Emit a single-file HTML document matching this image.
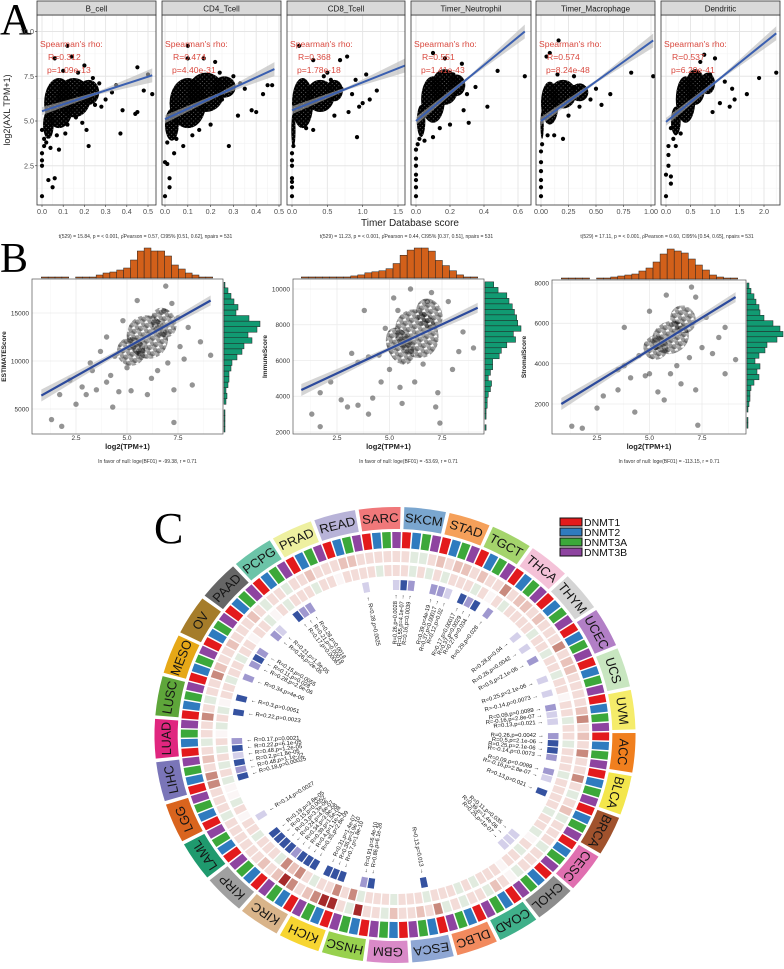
<!DOCTYPE html>
<html><head><meta charset="utf-8"><style>
html,body{margin:0;padding:0;background:#fff}
svg{display:block}
text{font-family:"Liberation Sans",sans-serif}
</style></head><body>
<svg id="fig" xmlns="http://www.w3.org/2000/svg" width="784" height="969" viewBox="0 0 784 969">
<defs>
<pattern id="dotsA" width="4.4" height="4.4" patternUnits="userSpaceOnUse">
<circle cx="0" cy="0" r="1.9" fill="#000"/><circle cx="4.4" cy="0" r="1.9" fill="#000"/><circle cx="0" cy="4.4" r="1.9" fill="#000"/><circle cx="4.4" cy="4.4" r="1.9" fill="#000"/><circle cx="2.2" cy="2.2" r="1.9" fill="#000"/>
</pattern>
<pattern id="dotsB" width="7" height="7" patternUnits="userSpaceOnUse">
<circle cx="1.5" cy="1.5" r="2.7" fill="#000" fill-opacity="0.4"/><circle cx="5" cy="4.5" r="2.7" fill="#000" fill-opacity="0.4"/><circle cx="2.5" cy="6" r="2.7" fill="#000" fill-opacity="0.3"/>
</pattern>
</defs>
<rect width="784" height="969" fill="#fff"/>
<text x="0" y="34" font-size="44" style="font-family:'Liberation Serif',serif">A</text>
<text x="0" y="272" font-size="42" style="font-family:'Liberation Serif',serif">B</text>
<text x="154" y="543" font-size="44" style="font-family:'Liberation Serif',serif">C</text>
<g id="pa"></g>
<g id="pb"></g>
<g id="pc"></g>
</svg>
<script>
// ---------- Panel A data ----------
const aNames=["B_cell","CD4_Tcell","CD8_Tcell","Timer_Neutrophil","Timer_Macrophage","Dendritic"];
const aR=["R=0.312","R=0.474","R=0.368","R=0.551","R=0.574","R=0.537"];
const aP=["p=1.09e-13","p=4.40e-31","p=1.78e-18","p=1.41e-43","p=8.24e-48","p=6.29e-41"];
const aTicks=[["0.0","0.1","0.2","0.3","0.4","0.5"],["0.0","0.1","0.2","0.3","0.4","0.5"],["0.0","0.5","1.0","1.5"],["0.0","0.2","0.4","0.6"],["0.00","0.25","0.50","0.75","1.00"],["0.0","0.5","1.0","1.5","2.0"]];
const aYTicks=[2.5,5.0,7.5,10.0];
const aLine=[[0,5.55,0.52,7.55],[0,5.1,0.48,7.9],[0,5.6,1.6,8.1],[0,5.0,0.64,10.0],[0,5.0,1.02,9.5],[0,4.95,2.25,9.9]];
const aCore=[
 [[0.08,6.0,0.07,1.4],[0.15,6.3,0.08,1.1],[0.03,4.8,0.025,0.8],[0.22,6.6,0.05,0.7]],
 [[0.1,6.0,0.08,1.4],[0.18,6.6,0.08,1.1],[0.03,4.8,0.03,0.9],[0.26,6.9,0.05,0.6]],
 [[0.15,6.0,0.15,1.4],[0.4,6.4,0.2,0.9],[0.02,4.5,0.03,1.0],[0.6,6.7,0.12,0.6]],
 [[0.1,6.2,0.07,1.3],[0.17,6.9,0.08,1.0],[0.03,5.0,0.025,0.9],[0.24,7.0,0.05,0.6]],
 [[0.08,6.0,0.08,1.2],[0.2,6.5,0.12,0.8],[0.01,4.8,0.015,0.8],[0.35,6.6,0.08,0.5]],
 [[0.4,6.2,0.2,1.3],[0.6,6.9,0.2,1.0],[0.2,5.0,0.1,0.8],[0.85,7.1,0.15,0.6]]];
const aPts=[
 [[0,0.8],[0,2.8],[0,2.5],[0.03,1.7],[0.05,1.3],[0.06,1.8],[0.12,9.2],[0.06,8.5],[0.14,8.6],[0.1,7.8],[0.2,8.1],[0.22,3.6],[0.38,5.6],[0.37,4.3],[0.45,5.5],[0.44,5.4],[0.48,6.7],[0.5,7.6],[0.52,6.5],[0.45,8.0],[0.33,6.6],[0.3,6.2],[0.27,7.1],[0.25,5.9],[0.01,4.0],[0.02,3.8],[0.04,3.5],[0.08,3.4],[0.07,4.2],[0.12,4.8],[0.18,6.8],[0.16,5.2],[0.28,5.8],[0.35,7.0],[0.21,4.5],[0,3.2],[0,4.5],[0.19,4.9],[0.24,7.4],[0.17,7.7],[0.01,3.6],[0.11,4.3]],
 [[0,0.8],[0,2.7],[0.02,1.8],[0.02,1.3],[0.01,2.6],[0.1,9.2],[0.1,8.5],[0.17,8.5],[0.22,8.3],[0.28,3.6],[0.47,7.0],[0.45,7.0],[0.43,6.5],[0.38,5.6],[0.4,5.5],[0.32,5.3],[0.35,6.8],[0.3,7.5],[0.05,4.0],[0.08,3.6],[0.04,3.2],[0.25,6.2],[0.2,4.8],[0.27,7.2],[0.15,4.5],[0.24,7.7],[0.12,4.2],[0.01,3.8],[0.33,7.1]],
 [[0,0.8],[0,1.3],[0,1.6],[0,1.8],[0,2.5],[0,2.8],[0,3.2],[0.1,9.2],[0.3,8.4],[0.5,7.7],[0.68,8.4],[0.78,8.6],[0.9,7.3],[0.92,4.1],[1.05,7.6],[1.1,6.2],[1.2,6.7],[1.0,6.0],[0.85,6.5],[0.95,5.8],[0.6,5.3],[0.7,6.8],[0.55,7.3],[0.3,4.5],[0.8,5.5],[0.02,3.6],[0.2,4.6],[0.45,7.5]],
 [[0,0.8],[0,1.3],[0,1.7],[0,2.0],[0,2.5],[0,2.9],[0,3.4],[0.1,8.8],[0.17,8.5],[0.27,8.2],[0.48,7.8],[0.64,7.5],[0.42,5.8],[0.31,4.9],[0.35,6.9],[0.3,6.5],[0.25,7.1],[0.02,4.0],[0.05,3.9],[0.1,4.1],[0.2,4.8],[0.22,7.6],[0.28,5.6],[0.01,3.7],[0.14,4.6]],
 [[0,0.8],[0,1.3],[0,1.7],[0,2.2],[0,2.7],[0,3.3],[0.05,8.6],[0.08,8.8],[0.16,9.5],[0.82,7.7],[1.02,7.5],[0.63,6.5],[0.55,5.9],[0.5,6.8],[0.45,6.2],[0.4,6.7],[0.3,6.9],[0.2,4.0],[0.12,4.2],[0.3,7.5],[0.25,5.3],[0.35,5.8],[0.15,7.6],[0.01,3.7],[0.06,4.2]],
 [[0,0.8],[0,2.0],[0.05,2.5],[0.1,1.5],[0.1,1.9],[0.05,3.1],[0.78,8.7],[1.0,8.5],[1.2,7.2],[1.35,6.8],[1.4,6.2],[1.65,6.5],[1.9,7.4],[2.25,7.7],[1.1,6.0],[0.95,5.5],[0.15,4.0],[0.2,3.6],[0.3,4.3],[1.3,5.8],[0.9,7.6],[0.7,8.3],[0.1,4.6],[0.05,3.6]]];
const aBox=[[37,156],[162,281],[287,405],[411,531],[536,655],[661,780]];
const aXA=[[0,42,0.5,148],[0,165,0.5,279],[0,292,1.5,398],[0,416,0.6,518],[0,541,1.0,651],[0,666,2.0,764]];

// ---------- Panel B data ----------
const bYTitle=["ESTIMATEScore","ImmuneScore","StromalScore"];
const bTop=["t(529) = 15.84, p = < 0.001, ρ̂Pearson = 0.57, CI95% [0.51, 0.62], npairs = 531","t(529) = 11.23, p = < 0.001, ρ̂Pearson = 0.44, CI95% [0.37, 0.51], npairs = 531","t(529) = 17.11, p = < 0.001, ρ̂Pearson = 0.60, CI95% [0.54, 0.65], npairs = 531"];
const bBot=["In favor of null: loge(BF01) = -99.38, r = 0.71","In favor of null: loge(BF01) = -53.69, r = 0.71","In favor of null: loge(BF01) = -113.15, r = 0.71"];
const bYTicks=[[5000,10000,15000],[2000,4000,6000,8000,10000],[2000,4000,6000,8000]];
const bXTicks=[2.5,5.0,7.5];
const bLine=[[0.8,6400,9.1,16300],[0.8,4350,9.2,8950],[0.8,2000,9.1,7300]];
const bCore=[[[6.0,12500,1.0,2300],[5.2,11000,0.7,1500],[6.8,14000,0.6,1600]],[[6.3,7500,1.0,1400],[5.5,6800,0.6,1100],[6.9,8600,0.6,900]],[[6.0,5300,0.9,800],[5.3,4800,0.6,600],[6.6,6200,0.6,700]]];
const bPts=[
 [[1.3,3900],[1.8,3200],[7.3,3600],[2.5,5500],[1.7,6500],[4.3,5200],[3.0,6500],[3.5,7000],[4.0,7800],[4.6,6800],[5.2,6900],[6.0,6500],[7.3,7000],[8.2,7500],[8.6,12000],[9.1,10600],[7.8,10200],[6.9,17800],[7.2,16000],[5.5,16300],[4.0,12500],[3.7,11000],[3.2,9800],[4.4,10500],[5.0,9300],[6.5,9000],[7.0,9800],[8.0,13500],[7.5,14500],[4.8,14200],[3.3,9000],[2.2,8000],[2.8,7300],[4.2,8500],[5.6,10800],[6.8,15200],[7.6,11500],[6.2,8200]],
 [[1.3,3000],[1.7,2300],[1.7,4200],[2.7,3800],[3.0,3400],[3.5,3500],[4.2,3900],[4.0,3000],[2.2,4800],[3.8,8800],[4.5,6300],[5.0,5500],[5.5,4500],[6.2,4800],[7.3,4200],[7.2,3400],[7.4,2500],[8.0,5500],[9.0,6700],[7.8,9300],[7.0,9800],[6.0,10000],[5.2,9500],[4.8,7800],[6.6,5800],[8.5,7600],[4.0,6200],[3.5,5900],[4.6,4800],[5.6,3600],[6.8,9300],[5.4,8800],[8.3,6500],[3.2,6400]],
 [[1.3,900],[1.8,800],[7.3,950],[2.5,1800],[4.3,1600],[5.7,2200],[2.8,2400],[3.5,2700],[3.8,3900],[4.8,3400],[5.0,3500],[5.4,2600],[6.5,3000],[7.2,2700],[8.6,3500],[9.1,4200],[8.0,4500],[8.3,5300],[8.6,5800],[7.7,6300],[7.0,7800],[5.8,7400],[5.0,6600],[3.8,5800],[4.5,4400],[6.3,3900],[7.5,4800],[3.5,3700],[4.1,3300],[6.0,3500],[6.9,4300],[5.3,4800],[7.2,7300]]];
const bHistTop=[[1,1,1,1,0,1,1,1,3,5,6,8,10,18,27,30,27,27,22,13,9,5,3,1,1],[1,1,1,1,1,1,1,2,3,5,6,7,9,14,22,27,29,29,26,17,12,7,3,1,1],[1,1,1,1,0,1,1,2,3,4,5,8,11,17,25,30,28,26,20,14,9,4,2,1,1]];
const bHistRight=[[1,1,1,1,0,2,3,2,4,5,5,7,8,13,18,20,28,24,33,36,25,12,14,10,7,4,1],[1,0,1,1,2,2,3,5,6,3,5,7,7,13,15,20,28,26,33,30,29,27,25,22,20,12,8],[1,1,0,1,2,3,3,4,7,12,10,13,8,12,18,20,30,36,33,26,17,13,12,9,7,4,2]];
const bHistRange=[[2600,18200],[2100,10400],[800,8000]];
const bBox=[[32,279,223,434],[293,279,484,434],[552,280,746,434]];
const bXA=[[2.5,76,7.5,178],[2.5,337,7.5,442],[2.5,597,7.5,702]];
const bYA=[[5000,409,15000,313],[2000,432,10000,289],[2000,404,8000,283]];

// ---------- Panel C data ----------
const cancers=["ACC","BLCA","BRCA","CESC","CHOL","COAD","DLBC","ESCA","GBM","HNSC","KICH","KIRC","KIRP","LAML","LGG","LIHC","LUAD","LUSC","MESO","OV","PAAD","PCPG","PRAD","READ","SARC","SKCM","STAD","TGCT","THCA","THYM","UCEC","UCS","UVM"];
const cancerColors=["#f07f1e","#f3e64c","#a0522d","#e06fb0","#8c8c8c","#40b08a","#f28a5e","#8fa7d4","#d98ac8","#98d14e","#f7d531","#d9b48a","#a0a0a0","#1f9a6e","#d9641e","#7a75b8","#e0267f","#5ea63a","#e6a817","#a57c2a","#666666","#6cc4a8","#eef0a0","#b8b3d8","#f0787a","#7aa6cf","#f5a05a","#a4d46c","#f4c2d8","#d4d4d4","#b27fc6","#c8e6c0","#f5ec6a"];
const genes=["DNMT1","DNMT2","DNMT3A","DNMT3B"];
const geneColors=["#e31a1c","#2f7bbf","#3ca83a","#8e44a0"];
const ring2=["qpPp","pPpg","pqgp","ppgp","ppg0","pqgp","pgpg","Ppqp","pqgp","pRgp","RRPq","pPRq","pqpp","pppp","gppp","PPpq","pgpp","Ppgp","pPqp","pqpp","pqpg","ppgp","pqpp","pqqp","pppp","pggp","qpqq","pqpp","Ppqq","pqpp","pPpq","qppp","pqPp"];
const ring3=["pgpp","pgpp","ppgp","pg0p","gpp0","pppg","pgpp","pgpp","pgpp","pgPp","Pppg","pPqP","gppp","gpp0","pg00","gpgp","gp0g","pg0p","pgpp","gpp0","ppg0","pgpp","pgpp","0ppp","pgpp","pgpg","pgpp","pgp0","pgpp","ppgp","pgpp","gpp0","ppgp"];
const ring4=["lbbl","0lL0","b000","000L","LL00","0000","0000","0b00","0000","bl00","bbb0","bbbl","bbbb","00L0","0000","blbL","bl00","0b0b","00l0","lbl0","0lL0","0bll","0000","000L","000L","bl00","llL0","blb0","l000","0L0L","0l00","L0L0","lLL0"];
const sigText=["R=0.26,p=0.0042","R=0.5,p=2.1e-06","R=0.25,p=2.1e-06","R=-0.14,p=0.0073","R=0.09,p=0.0089","R=-0.16,p=2.8e-07","R=0.13,p=0.021","R=0.11,p=0.035","R=0.39,p=1.4e-06","R=0.25,p=1e-07","R=0.13,p=0.013","R=0.86,p=6.1e-26","R=0.91,p=6.4e-10","R=0.7,p=1.8e-10","R=0.36,p=3.9e-10","R=0.31,p=1.4e-07","R=0.35,p=2.8e-09","R=0.4,p=1.1e-11","R=0.39,p=1.5e-08","R=0.34,p=3.9e-08","R=0.24,p=4.6e-07","R=0.3,p=3.3e-06","R=0.15,p=0.0052","R=0.19,p=3.8e-05","R=0.14,p=0.0027","R=0.18,p=0.00025","R=0.48,p=1.1e-22","R=0.2,p=1.8e-05","R=0.48,p=1.2e-05","R=0.22,p=6.1e-05","R=0.17,p=0.0021","R=0.22,p=0.0023","R=0.3,p=0.0051","R=0.34,p=4e-06","R=0.28,p=2.6e-06","R=0.11,p=0.028","R=0.15,p=0.0055","R=0.26,p=2e-05","R=0.21,p=1.3e-05","R=0.17,p=0.00067","R=0.21,p=0.00019","R=0.28,p=0.0018","R=0.28,p=0.0025","R=0.26,p=0.0028","R=0.55,p=4.1e-07","R=0.16,p=0.0039","R=0.39,p=4e-19","R=0.37,p=0.00017","R=0.12,p=0.02","R=0.17,p=0.00017","R=0.37,p=0.0029","R=0.27,p=0.034","R=0.29,p=0.028","R=0.28,p=0.04"];
const cellColor={"0":"#fbf6f6","p":"#f3dcd8","q":"#e9c2ba","P":"#c98a7e","R":"#a52a2a","g":"#e1ebdf","b":"#3552a0","l":"#9f98cf","L":"#d4d0ea"};

// ---------- helpers ----------
const NS="http://www.w3.org/2000/svg";
function mk(tag,attrs,parent){const e=document.createElementNS(NS,tag);for(const k in attrs)e.setAttribute(k,attrs[k]);parent.appendChild(e);return e;}
function lin(a){const s=(a[3]-a[1])/(a[2]-a[0]);return v=>a[1]+(v-a[0])*s;}

// ---------- draw panel A ----------
const pa=document.getElementById('pa');
const ay=lin([5,121,10,31.5]);
const aTop=15,aBot=205;
aNames.forEach((nm,i)=>{
 const [x0,x1]=aBox[i]; const ax=lin(aXA[i]);
 const g=mk('g',{},pa);
 
 
 mk('rect',{x:x0,y:aTop,width:x1-x0,height:aBot-aTop,fill:'#fff'},g);
 const cid='clipA'+i; const cp=mk('clipPath',{id:cid},g); mk('rect',{x:x0,y:aTop,width:x1-x0,height:aBot-aTop},cp);
 const tv=aTicks[i].map(Number); const step=tv[1]-tv[0];
 for(let k=-1;k<=tv.length;k++){const v=tv[0]+step*(k+0.5);const X=ax(v);if(X>x0&&X<x1)mk('line',{x1:X,x2:X,y1:aTop,y2:aBot,stroke:'#f2f2f2','stroke-width':0.6},g);}
 [1.25,3.75,6.25,8.75].forEach(v=>mk('line',{x1:x0,x2:x1,y1:ay(v),y2:ay(v),stroke:'#f2f2f2','stroke-width':0.6},g));
 tv.forEach(v=>mk('line',{x1:ax(v),x2:ax(v),y1:aTop,y2:aBot,stroke:'#e5e5e5','stroke-width':0.9},g));
 aYTicks.forEach(v=>mk('line',{x1:x0,x2:x1,y1:ay(v),y2:ay(v),stroke:'#e5e5e5','stroke-width':0.9},g));
 const pg=mk('g',{'clip-path':'url(#'+cid+')'},g);
 aCore[i].forEach(c=>{const e=mk('ellipse',{cx:ax(c[0]),cy:ay(c[1]),rx:Math.abs(ax(c[2])-ax(0)),ry:Math.abs(ay(0)-ay(c[3])),fill:'url(#dotsA)'},pg);
  
  });
 aPts[i].forEach(p=>{const c=mk('circle',{cx:ax(p[0]),cy:ay(p[1]),r:2.1,fill:'#000'},pg);
  
  });
 const L=aLine[i];
 const bx1=ax(L[0]),by1=ay(L[1]),bx2=ax(L[2]),by2=ay(L[3]);
 mk('polygon',{points:`${bx1},${by1-4} ${(bx1+bx2)/2},${(by1+by2)/2-1.5} ${bx2},${by2-7} ${bx2},${by2+7} ${(bx1+bx2)/2},${(by1+by2)/2+1.5} ${bx1},${by1+4}`,fill:'#b5b5b5','fill-opacity':0.6},pg);
 const rl=mk('line',{x1:bx1,y1:by1,x2:bx2,y2:by2,stroke:'#3a5fb0','stroke-width':2},pg);
 
 
 mk('rect',{x:x0,y:aTop,width:x1-x0,height:aBot-aTop,fill:'none',stroke:'#333','stroke-width':0.8},g);
 mk('rect',{x:x0,y:1,width:x1-x0,height:aTop-1,fill:'#d9d9d9',stroke:'#333','stroke-width':0.8},g);
 const st=mk('text',{x:(x0+x1)/2,y:11.5,'font-size':8,'text-anchor':'middle',fill:'#1a1a1a'},g);st.textContent=nm;
 
 
 const s1=mk('text',{x:x0+3,y:47,'font-size':8.6,fill:'#d9493f'},g);s1.textContent="Spearman's rho:";
 const s2=mk('text',{x:x0+11,y:60,'font-size':8.6,fill:'#d9493f'},g);s2.textContent=aR[i];
 const s3=mk('text',{x:x0+10,y:73,'font-size':8.6,fill:'#d9493f'},g);s3.textContent=aP[i];
 [s1,s2,s3].forEach(s=>{
  
  });
 aTicks[i].forEach(t=>{const X=ax(Number(t));mk('line',{x1:X,x2:X,y1:aBot,y2:aBot+2,stroke:'#333','stroke-width':0.6},g);const tt=mk('text',{x:X,y:214,'font-size':7.2,'text-anchor':'middle',fill:'#4d4d4d'},g);tt.textContent=t;
  
  });
 if(i===0){aYTicks.forEach(v=>{mk('line',{x1:x0-2,x2:x0,y1:ay(v),y2:ay(v),stroke:'#333','stroke-width':0.6},g);const tt=mk('text',{x:x0-3,y:ay(v)+2.5,'font-size':7.2,'text-anchor':'end',fill:'#4d4d4d'},g);tt.textContent=v.toFixed(1);
  
  });}
});
{const t=mk('text',{x:410,y:226,'font-size':10,'text-anchor':'middle',fill:'#222'},pa);t.textContent='Timer Database score';
 
 
 const t2=mk('text',{x:0,y:0,'font-size':9,'text-anchor':'middle',fill:'#222',transform:'translate(10,110) rotate(-90)'},pa);t2.textContent='log2(AXL TPM+1)';
 
 }

// ---------- draw panel B ----------
const pb=document.getElementById('pb');
bBox.forEach((b,i)=>{
 const [x0,y0,x1,y1]=b; const bx=lin(bXA[i]), by=lin(bYA[i]);
 const g=mk('g',{},pb);
 
 
 const cid='clipB'+i; const cp=mk('clipPath',{id:cid},g); mk('rect',{x:x0,y:y0,width:x1-x0,height:y1-y0},cp);
 bXTicks.forEach(v=>mk('line',{x1:bx(v),x2:bx(v),y1:y0,y2:y1,stroke:'#ebebeb','stroke-width':0.8},g));
 [1.25,3.75,6.25,8.75].forEach(v=>mk('line',{x1:bx(v),x2:bx(v),y1:y0,y2:y1,stroke:'#f5f5f5','stroke-width':0.5},g));
 bYTicks[i].forEach(v=>mk('line',{x1:x0,x2:x1,y1:by(v),y2:by(v),stroke:'#ebebeb','stroke-width':0.8},g));
 const pg=mk('g',{'clip-path':'url(#'+cid+')'},g);
 bCore[i].forEach(c=>{
  const ce=mk('ellipse',{cx:bx(c[0]),cy:by(c[1]),rx:Math.abs(bx(c[2])-bx(0)),ry:Math.abs(by(0)-by(c[3])),fill:'url(#dotsB)',transform:`rotate(-25 ${bx(c[0])} ${by(c[1])})`},pg);
  
  });
 bPts[i].forEach(p=>{const d=mk('circle',{cx:bx(p[0]),cy:by(p[1]),r:2.7,fill:'#000','fill-opacity':0.42},pg);
  
  });
 const L=bLine[i];const X1=bx(L[0]),Y1=by(L[1]),X2=bx(L[2]),Y2=by(L[3]);
 mk('polygon',{points:`${X1},${Y1-6} ${(X1+X2)/2},${(Y1+Y2)/2-2} ${X2},${Y2-5} ${X2},${Y2+5} ${(X1+X2)/2},${(Y1+Y2)/2+2} ${X1},${Y1+6}`,fill:'#b0b0b0','fill-opacity':0.55},pg);
 const rl=mk('line',{x1:X1,y1:Y1,x2:X2,y2:Y2,stroke:'#2c4a9c','stroke-width':2.2},pg);
 
 
 mk('rect',{x:x0,y:y0,width:x1-x0,height:y1-y0,fill:'none',stroke:'#555','stroke-width':0.7},g);
 const ht=bHistTop[i]; const bw=(9.2-0.8)/ht.length; const mx=Math.max(...ht);
 ht.forEach((h,k)=>{const xa=bx(0.8+k*bw),xb=bx(0.8+(k+1)*bw);const hh=h/mx*30;const r=mk('rect',{x:xa,y:y0-1-hh,width:xb-xa,height:hh,fill:'#d2601a',stroke:'#222','stroke-width':0.5},g);
  
  });
 const hr=bHistRight[i]; const [lo,hi]=bHistRange[i]; const bh=(hi-lo)/hr.length; const mr=Math.max(...hr);
 hr.forEach((h,k)=>{const ya=by(lo+k*bh),yb=by(lo+(k+1)*bh);const ww=h/mr*36;const r=mk('rect',{x:x1+1,y:yb,width:ww,height:ya-yb,fill:'#119a72',stroke:'#222','stroke-width':0.5},g);
  
  });
 bXTicks.forEach(v=>{const t=mk('text',{x:bx(v),y:440,'font-size':6.5,'text-anchor':'middle',fill:'#333'},g);t.textContent=v.toFixed(1);
  
  });
 bYTicks[i].forEach(v=>{const t=mk('text',{x:x0-3,y:by(v)+2.3,'font-size':6.5,'text-anchor':'end',fill:'#333'},g);t.textContent=v;
  
  });
 const xt=mk('text',{x:(x0+x1)/2,y:449,'font-size':7.5,'font-weight':'bold','text-anchor':'middle',fill:'#222'},g);xt.textContent='log2(TPM+1)';
 
 
 const yt=mk('text',{x:0,y:0,'font-size':6.5,'font-weight':'bold','text-anchor':'middle',fill:'#222',transform:`translate(${x0-26},${(y0+y1)/2}) rotate(-90)`},g);yt.textContent=bYTitle[i];
 
 
 const tt=mk('text',{x:(x0+x1)/2+18,y:238,'font-size':5,'text-anchor':'middle',fill:'#333'},g);tt.textContent=bTop[i];
 
 
 const bt=mk('text',{x:(x0+x1)/2+20,y:463,'font-size':5,'text-anchor':'middle',fill:'#333'},g);bt.textContent=bBot[i];
 
 
});

// ---------- draw panel C ----------
const pc=document.getElementById('pc');
const CX=395,CY=735,SX=1.055;
const A0=94.5,SPAN=360/cancers.length,GW=2.3,GSTEP=SPAN/4;
function P(r,a){const t=a*Math.PI/180;return [r*Math.sin(t),-r*Math.cos(t)];}
function sector(r0,r1,a0,a1){const p1=P(r1,a0),p2=P(r1,a1),p3=P(r0,a1),p4=P(r0,a0);const lg=(a1-a0)>180?1:0;return `M${p1[0]},${p1[1]} A${r1},${r1} 0 ${lg} 1 ${p2[0]},${p2[1]} L${p3[0]},${p3[1]} A${r0},${r0} 0 ${lg} 0 ${p4[0]},${p4[1]} Z`;}
const cg=mk('g',{transform:`translate(${CX},${CY}) scale(${SX},1)`},pc);


let sigIdx=0;
cancers.forEach((cn,i)=>{
 const ac=A0+i*SPAN;
 const lb=mk('path',{d:sector(206,228,ac-SPAN/2+0.45,ac+SPAN/2-0.45),fill:cancerColors[i]},cg);
 
 
 const tp=P(217,ac);
 const t=mk('text',{x:0,y:0,'font-size':12.5,'text-anchor':'middle','dominant-baseline':'central',fill:'#151515',transform:`translate(${tp[0]},${tp[1]}) rotate(${ac})`},cg);
 t.textContent=cn;
 
 
 for(let j=0;j<4;j++){
  const gc=ac-SPAN/2+GSTEP*(j+0.5); const a0=gc-GW/2,a1=gc+GW/2;
  const gb=mk('path',{d:sector(187,203,a0,a1),fill:geneColors[j]},cg);
  
  
  const c2=mk('path',{d:sector(173,184,a0,a1),fill:cellColor[ring2[i][j]]},cg);
  
  
  const c3=mk('path',{d:sector(159,170,a0,a1),fill:cellColor[ring3[i][j]]},cg);
  
  
  const code=ring4[i][j];
  if(code!=='0'){
   const c4=mk('path',{d:sector(145,155,a0,a1),fill:cellColor[code]},cg);
   
   
   const base=sigText[sigIdx%sigText.length];sigIdx++;
   let tr,anchor,label;
   const rad=gc*Math.PI/180;
   const norm=((gc%360)+360)%360;
   const pt=P(141,gc);
   if(norm>180){tr=Math.atan2(Math.cos(rad),-Math.sin(rad))*180/Math.PI;anchor='start';label='← '+base;}
   else{tr=Math.atan2(-Math.cos(rad),Math.sin(rad))*180/Math.PI;anchor='end';label=base+' →';}
   const st=mk('text',{x:0,y:0,'font-size':5.6,'text-anchor':anchor,'dominant-baseline':'central',fill:'#111',transform:`translate(${pt[0]},${pt[1]}) rotate(${tr})`},cg);
   st.textContent=label;
   
   
  }
 }
});
const lg=mk('g',{},pc);


genes.forEach((gn,j)=>{const y=518+j*10;
 const r=mk('rect',{x:560,y:y,width:22,height:8,fill:geneColors[j],stroke:'#111','stroke-width':1},lg);
 
 
 const t=mk('text',{x:584,y:y+8,'font-size':10.5,fill:'#111'},lg);t.textContent=gn;
 
 });
</script>
</body></html>
